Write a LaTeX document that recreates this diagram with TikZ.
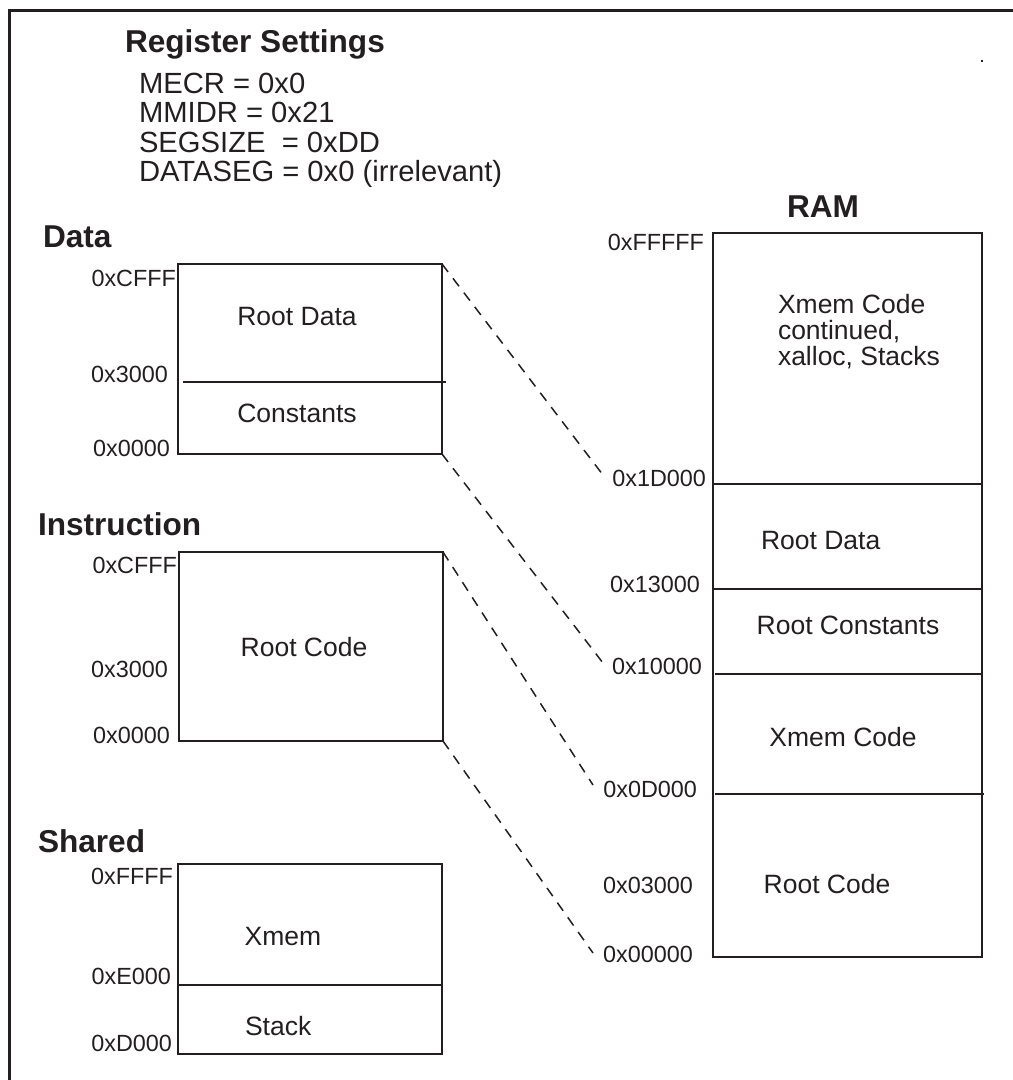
\documentclass[tikz,border=0pt]{standalone}
\usepackage{fontspec}
\setmainfont{Liberation Sans}
\definecolor{ink}{RGB}{35,31,32}
\begin{document}
\begin{tikzpicture}[x=1pt,y=-1pt,
  every node/.style={inner sep=0pt,outer sep=0pt,text=ink},
  head/.style={font=\fontsize{31.6}{34}\selectfont\bfseries},
  reg/.style={font=\fontsize{29.2}{29.3}\selectfont,anchor=base west},
  addr/.style={font=\fontsize{23.4}{26}\selectfont,anchor=base east},
  txt/.style={font=\fontsize{26.5}{26}\selectfont},
  membox/.style={draw=ink,line width=2pt,rectangle,minimum width=264pt},
  divider/.style={draw=ink,line width=2pt},
  mapline/.style={draw=ink,line width=1.5pt,dash pattern=on 10pt off 8pt}
]
\useasboundingbox (0,0) rectangle (1013,1080);
% frame
\draw[ink,line width=3pt] (9.5,1090) -- (9.5,10.5) -- (1020,10.5);
\fill[ink] (981,60) rectangle (983,62);

% register settings
\node[head,anchor=base west] (regtitle) at (125,52) {Register Settings};
\node[reg] (r1) at (139,93) {MECR = 0x0};
\node[reg] (r2) at (139,122) {MMIDR = 0x21};
\node[reg] (r3) at (139,152) {SEGSIZE\ \ = 0xDD};
\node[reg] (r4) at (139,181) {DATASEG = 0x0 (irrelevant)};

% Data
\node[head,anchor=base west] (hdata) at (43,247) {Data};
\node[membox,minimum height=190pt] (dbox) at (310,359) {};
\draw[divider] (183,382) -- (446,382);
\node[addr] (d1) at (176,286) {0xCFFF};
\node[addr] (d2) at (168,382) {0x3000};
\node[addr] (d3) at (170,456) {0x0000};
\node[txt,anchor=base] (dt1) at (297,325) {Root Data};
\node[txt,anchor=base] (dt2) at (297,422) {Constants};

% Instruction
\node[head,anchor=base west] (hins) at (38,535) {Instruction};
\node[membox,minimum height=189pt] (ibox) at (311,646.5) {};
\node[addr] (i1) at (177,573) {0xCFFF};
\node[addr] (i2) at (168,677) {0x3000};
\node[addr] (i3) at (170,743) {0x0000};
\node[txt,anchor=base] (it1) at (304,656) {Root Code};

% Shared
\node[head,anchor=base west] (hsh) at (38,852) {Shared};
\node[membox,minimum height=190pt] (sbox) at (310,959) {};
\draw[divider] (179,985) -- (443,985);
\node[addr] (s1) at (173,884) {0xFFFF};
\node[addr] (s2) at (171,984) {0xE000};
\node[addr] (s3) at (172,1051) {0xD000};
\node[txt,anchor=base] (st1) at (283,945) {Xmem};
\node[txt,anchor=base west] (st2) at (245,1035) {Stack};

% RAM
\node[head,anchor=base] (hram) at (823,217) {RAM};
\node[membox,minimum width=269pt,minimum height=724pt] (rbox) at (847.5,595) {};
\draw[divider] (713,484) -- (982,484);
\draw[divider] (713,589) -- (982,589);
\draw[divider] (715,674) -- (983,674);
\draw[divider] (715,794) -- (984,794);
\node[addr] (a1) at (704,250) {0xFFFFF};
\node[addr] (a2) at (706,486) {0x1D000};
\node[addr] (a3) at (700,592) {0x13000};
\node[addr] (a4) at (702,674) {0x10000};
\node[addr] (a5) at (697,797) {0x0D000};
\node[addr] (a6) at (693,893) {0x03000};
\node[addr] (a7) at (693,962) {0x00000};
\node[txt,anchor=base west] (rt1) at (778,313) {Xmem Code};
\node[txt,anchor=base west] (rt2) at (778,339) {continued,};
\node[txt,anchor=base west] (rt3) at (778,365) {xalloc, Stacks};
\node[txt,anchor=base west] (rt4) at (761,549) {Root Data};
\node[txt,anchor=base] (rt5) at (848,634) {Root Constants};
\node[txt,anchor=base] (rt6) at (843,746) {Xmem Code};
\node[txt,anchor=base] (rt7) at (827,893) {Root Code};

% mapping lines
\coordinate (e1) at (603,475);
\coordinate (e2) at (603,663);
\coordinate (e3) at (593,785);
\coordinate (e4) at (593,953);
\draw[mapline] (dbox.north east) -- (e1);
\draw[mapline] (dbox.south east) -- (e2);
\draw[mapline] (ibox.north east) -- (e3);
\draw[mapline] (ibox.south east) -- (e4);
\end{tikzpicture}
\end{document}
